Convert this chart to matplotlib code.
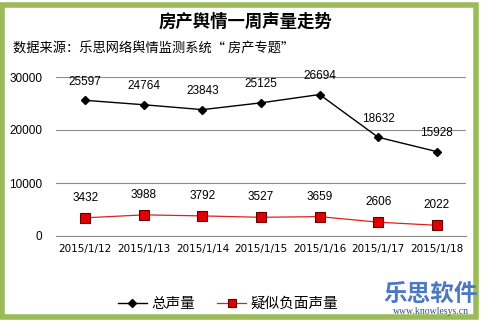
import matplotlib.pyplot as plt
from matplotlib.patches import Rectangle

plt.rcParams['font.family'] = ['Noto Sans CJK SC', 'DejaVu Sans']

dates = ["2015/1/12", "2015/1/13", "2015/1/14", "2015/1/15",
         "2015/1/16", "2015/1/17", "2015/1/18"]
total = [25597, 24764, 23843, 25125, 26694, 18632, 15928]
negative = [3432, 3988, 3792, 3527, 3659, 2606, 2022]
yticks = [0, 10000, 20000, 30000]

W, H = 482, 321
fig = plt.figure(figsize=(W / 100, H / 100), dpi=100)
fig.patch.set_facecolor("white")

# green frame
fig.patches.append(Rectangle((2 / W, 4 / H), 474 / W, 312 / H, transform=fig.transFigure,
                             fill=False, edgecolor="#9BBB59", linewidth=4, zorder=0))

ax = fig.add_axes([56 / W, 1 - 236 / H, 410 / W, 159 / H])
x = list(range(len(dates)))
ax.plot(x, total, color="black", linewidth=1, marker="D", markersize=4.5,
        markerfacecolor="black", label="总声量", zorder=3)
ax.plot(x, negative, color="#E02020", linewidth=0.9, marker="s", markersize=6.5,
        markerfacecolor="#E00000", markeredgecolor="#600000", markeredgewidth=0.8,
        label="疑似负面声量", zorder=3)

num_font = ["Liberation Sans", "DejaVu Sans"]
for xi, v in zip(x, total):
    ax.annotate(str(v), (xi, v), xytext=(0, 9), textcoords="offset points",
                ha="center", va="bottom", fontsize=8.5, family=num_font)
for xi, v in zip(x, negative):
    ax.annotate(str(v), (xi, v), xytext=(0, 10), textcoords="offset points",
                ha="center", va="bottom", fontsize=8.5, family=num_font)

ax.set_xlim(-0.5, len(dates) - 0.5)
ax.set_ylim(0, 30000)
ax.set_yticks(yticks)
ax.set_yticklabels([str(t) for t in yticks], fontsize=8.5, family=num_font)
ax.set_xticks(x)
ax.set_xticklabels(dates, fontsize=7.5, family=["DejaVu Sans"])
ax.grid(axis="y", color="#8c8c8c", linewidth=0.8)
ax.set_axisbelow(True)
for s in ["top", "right", "left"]:
    ax.spines[s].set_visible(False)
ax.spines["bottom"].set_color("#8c8c8c")
ax.tick_params(length=0, pad=6)
ax.tick_params(axis="y", pad=10)

fig.text(245 / W, 1 - 22 / H, "房产舆情一周声量走势", ha="center", va="center",
         fontsize=12.5, fontweight="bold")
fig.text(13 / W, 1 - 49 / H, "数据来源：乐思网络舆情监测系统“ 房产专题”", ha="left", va="center",
         fontsize=9.5)

ax.legend(loc="center", bbox_to_anchor=(228 / W, 1 - 304 / H), bbox_transform=fig.transFigure,
          ncol=2, frameon=False, fontsize=10.5, handlelength=2.0, columnspacing=1.5,
          handletextpad=0.3, markerscale=0.8)

fig.text(431 / W, 1 - 294 / H, "乐思软件", ha="center", va="center", fontsize=17,
         fontweight="bold", color="#4C79C0")
fig.text(431 / W, 1 - 311 / H, "www.knowlesys.cn", ha="center", va="center", fontsize=7,
         family=["Liberation Serif", "DejaVu Serif"], color="#2F4F8F")

fig.savefig("out.png", dpi=100)
